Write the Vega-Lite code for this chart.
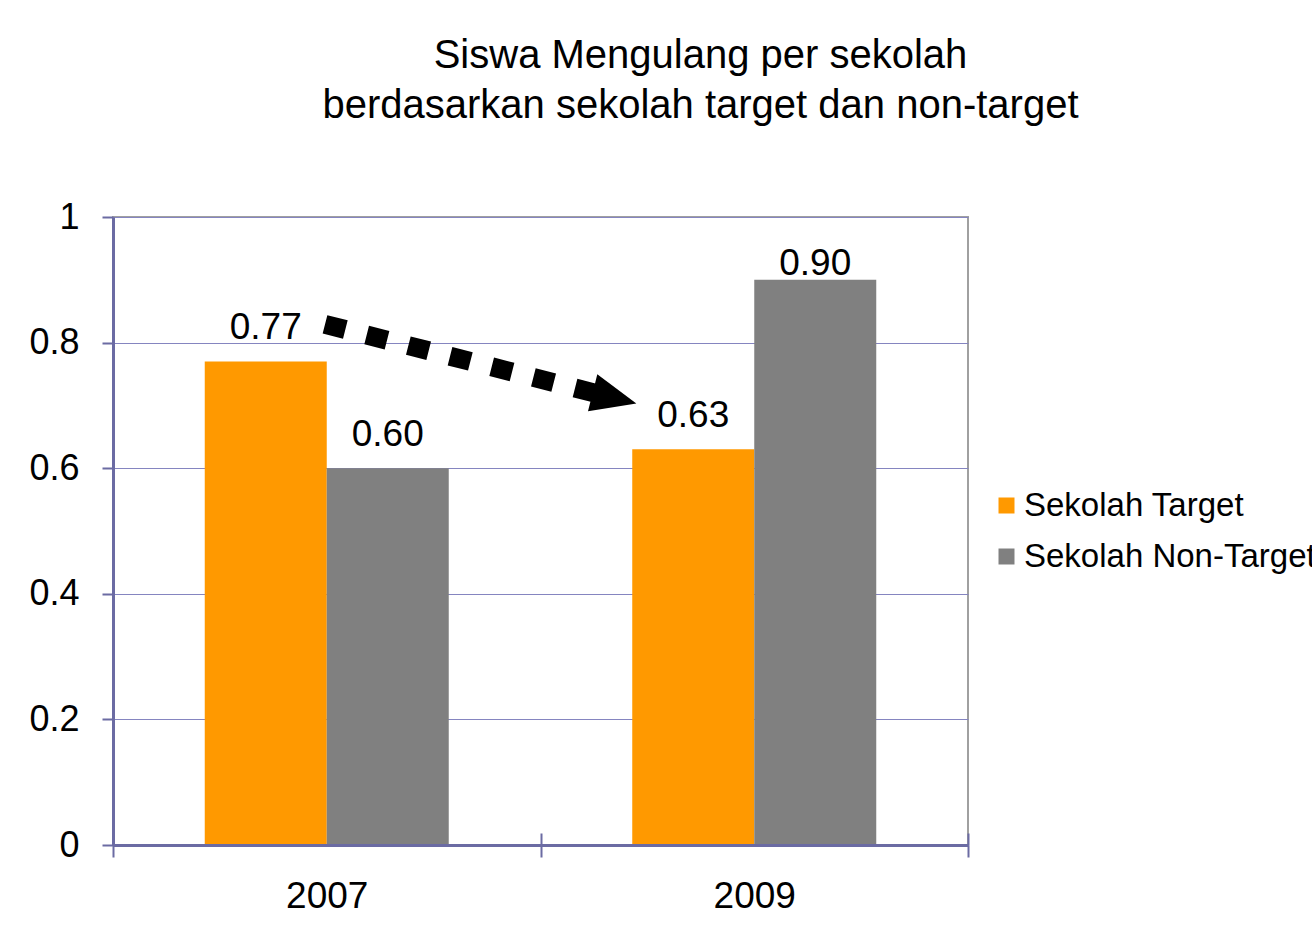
{
  "$schema": "https://vega.github.io/schema/vega-lite/v6.json",
  "width": 855,
  "height": 628,
  "autosize": {"type": "none"},
  "padding": {"left": 113, "top": 217, "right": 344, "bottom": 97},
  "background": "white",
  "config": {
    "view": {"stroke": "#a0a0a0", "strokeWidth": 2},
    "font": "Liberation Sans"
  },
  "title": {
    "text": ["Siswa Mengulang per sekolah", "berdasarkan sekolah target dan non-target"],
    "font": "Liberation Sans",
    "fontSize": 40,
    "fontWeight": "normal",
    "color": "black",
    "anchor": "middle",
    "dx": 160,
    "lineHeight": 50,
    "offset": 73
  },
  "datasets": {
    "bars": [
      {"year": "2007", "group": "Sekolah Target", "value": 0.77},
      {"year": "2007", "group": "Sekolah Non-Target", "value": 0.60},
      {"year": "2009", "group": "Sekolah Target", "value": 0.63},
      {"year": "2009", "group": "Sekolah Non-Target", "value": 0.90}
    ],
    "arrow": [
      {"pos": 0.4959, "v": 0.829},
      {"pos": 1.1251, "v": 0.720}
    ],
    "head": [
      {"pos": 1.1731, "v": 0.7115}
    ]
  },
  "layer": [
    {
      "data": {"name": "bars"},
      "encoding": {
        "x": {
          "field": "year",
          "type": "nominal",
          "scale": {"paddingInner": 0, "paddingOuter": 0},
          "axis": {
            "orient": "bottom",
            "tickBand": "extent",
            "tickSize": 12,
            "tickWidth": 2,
            "tickColor": "#6b6ba3",
            "domainColor": "#6b6ba3",
            "domainWidth": 3,
            "labelFontSize": 37,
            "labelColor": "black",
            "labelPadding": 21,
            "labelAngle": 0,
            "title": null,
            "zindex": 1
          }
        },
        "xOffset": {
          "field": "group",
          "type": "nominal",
          "sort": ["Sekolah Target", "Sekolah Non-Target"],
          "scale": {"paddingInner": 0, "paddingOuter": 0.752}
        },
        "y": {
          "field": "value",
          "type": "quantitative",
          "scale": {"domain": [0, 1], "nice": false},
          "axis": {
            "values": [0, 0.2, 0.4, 0.6, 0.8, 1],
            "format": "~g",
            "tickSize": 11,
            "tickWidth": 2,
            "tickColor": "#6b6ba3",
            "domainColor": "#6b6ba3",
            "domainWidth": 3,
            "grid": true,
            "gridColor": "#8585c0",
            "gridWidth": 1,
            "labelFontSize": 36,
            "labelPadding": 23,
            "labelColor": "black",
            "labelFlush": false,
            "title": null
          }
        }
      },
      "layer": [
        {
          "mark": {"type": "bar"},
          "encoding": {
            "color": {
              "field": "group",
              "type": "nominal",
              "scale": {"domain": ["Sekolah Target", "Sekolah Non-Target"], "range": ["#FF9900", "#808080"]},
              "legend": {
                "orient": "none",
                "legendX": 877,
                "legendY": 272,
                "title": null,
                "symbolType": "square",
                "symbolSize": 256,
                "symbolStrokeWidth": 0,
                "symbolOpacity": 1,
                "labelFontSize": 33,
                "labelColor": "black",
                "labelOffset": 1,
                "rowPadding": 17,
                "labelLimit": 500
              }
            }
          }
        },
        {
          "transform": [{"filter": "datum.value < 0.85"}],
          "mark": {"type": "text", "baseline": "alphabetic", "dy": -22, "fontSize": 37, "color": "black"},
          "encoding": {"text": {"field": "value", "type": "quantitative", "format": ".2f"}}
        },
        {
          "transform": [{"filter": "datum.value >= 0.85"}],
          "mark": {"type": "text", "baseline": "alphabetic", "dy": -5, "fontSize": 37, "color": "black"},
          "encoding": {"text": {"field": "value", "type": "quantitative", "format": ".2f"}}
        }
      ]
    },
    {
      "encoding": {
        "x": {
          "field": "pos",
          "type": "quantitative",
          "scale": {"domain": [0, 2], "nice": false, "zero": false},
          "axis": {
            "orient": "top",
            "offset": -628,
            "values": [0, 1, 2],
            "labels": false,
            "domain": false,
            "grid": false,
            "tickSize": 12,
            "tickWidth": 2,
            "tickColor": "#6b6ba3",
            "title": null
          }
        },
        "y": {
          "field": "v",
          "type": "quantitative",
          "scale": {"domain": [0, 1], "nice": false}
        }
      },
      "layer": [
        {
          "data": {"name": "arrow"},
          "mark": {"type": "line", "color": "black", "strokeWidth": 19, "strokeDash": [21, 22], "strokeCap": "butt"}
        },
        {
          "data": {"name": "head"},
          "mark": {"type": "point", "shape": "M-1,-0.85L1,0L-1,0.85Z", "filled": true, "color": "black", "opacity": 1, "size": 2025, "angle": 14, "strokeWidth": 0}
        }
      ]
    }
  ],
  "resolve": {"scale": {"x": "independent"}, "axis": {"x": "independent"}}
}
